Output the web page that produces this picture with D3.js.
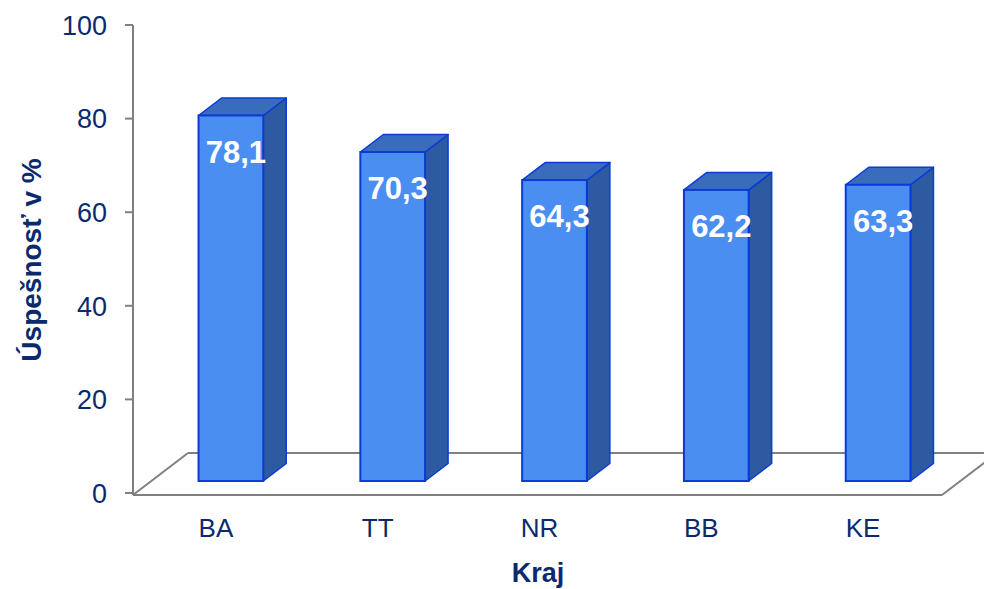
<!DOCTYPE html>
<html>
<head>
<meta charset="utf-8">
<script src="https://cdn.jsdelivr.net/npm/d3@7"></script>
<style>
  html, body { margin: 0; padding: 0; background: #fff; }
  svg { display: block; font-family: "Liberation Sans", Arial, sans-serif; }
</style>
</head>
<body>
<svg id="chart" width="984" height="589"></svg>
<script>
const categories = ["BA", "TT", "NR", "BB", "KE"];
const values = [78.1, 70.3, 64.3, 62.2, 63.3];
const yTicks = [0, 20, 40, 60, 80, 100];
const xTitle = "Kraj";
const yTitle = "Úspešnosť v %";

const svg = d3.select("#chart");
const navy = "#0b2a6e";
const grey = "#808080";

const y = d3.scaleLinear().domain([0, 100]).range([493, 25]);
const x = d3.scaleBand().domain(categories).range([133, 942]).padding(0);

// floor depth
const fdx = 55, fdy = -42;
const floorY = 495;
// bar geometry relative to floor
const barShiftX = 17, barShiftY = -12;
const bdx = 23, bdy = -17.5;
const barW = x.bandwidth() * 0.4;

// floor
const floor = svg.append("g").attr("stroke", grey).attr("stroke-width", 2).attr("fill", "none");
floor.append("line").attr("x1", 133 + fdx).attr("y1", floorY + fdy).attr("x2", 984).attr("y2", floorY + fdy);
floor.append("line").attr("x1", 133).attr("y1", floorY).attr("x2", 133 + fdx).attr("y2", floorY + fdy);
floor.append("line").attr("x1", 133).attr("y1", floorY).attr("x2", 942).attr("y2", floorY);
floor.append("line").attr("x1", 942).attr("y1", floorY).attr("x2", 942 + fdx).attr("y2", floorY + fdy);

// y axis
const axis = svg.append("g");
axis.append("line").attr("x1", 133).attr("x2", 133).attr("y1", y(100)).attr("y2", floorY)
  .attr("stroke", grey).attr("stroke-width", 2);
axis.selectAll("line.tick").data(yTicks).enter().append("line")
  .attr("class", "tick")
  .attr("x1", 125).attr("x2", 133)
  .attr("y1", d => y(d)).attr("y2", d => y(d))
  .attr("stroke", grey).attr("stroke-width", 2);
axis.selectAll("text").data(yTicks).enter().append("text")
  .attr("x", 107).attr("y", d => y(d))
  .attr("dy", "0.36em")
  .attr("text-anchor", "end")
  .attr("font-size", 27)
  .attr("fill", navy)
  .text(d => d);

// bars
const bars = svg.append("g").selectAll("g").data(categories.map((c, i) => ({c, v: values[i]}))).enter().append("g");
const stroke = "#0a3bd6";
bars.each(function(d) {
  const g = d3.select(this);
  const x0 = x(d.c) + x.bandwidth() / 2 - barW / 2 + barShiftX;
  const x1 = x0 + barW;
  const yb = y(0) + barShiftY;
  const yt = y(d.v) + barShiftY;
  // side
  g.append("path")
    .attr("d", `M${x1},${yt} L${x1 + bdx},${yt + bdy} L${x1 + bdx},${yb + bdy} L${x1},${yb} Z`)
    .attr("fill", "#2d5aa0").attr("stroke", stroke).attr("stroke-width", 1.5).attr("stroke-linejoin", "round");
  // top
  g.append("path")
    .attr("d", `M${x0},${yt} L${x0 + bdx},${yt + bdy} L${x1 + bdx},${yt + bdy} L${x1},${yt} Z`)
    .attr("fill", "#3a6cbd").attr("stroke", stroke).attr("stroke-width", 1.5).attr("stroke-linejoin", "round");
  // front
  g.append("rect")
    .attr("x", x0).attr("y", yt).attr("width", barW).attr("height", yb - yt)
    .attr("fill", "#4b8ef2").attr("stroke", stroke).attr("stroke-width", 2);
  g.append("text")
    .attr("x", (x0 + x1) / 2 + 5)
    .attr("y", yt + 36)
    .attr("dy", "0.36em")
    .attr("text-anchor", "middle")
    .attr("font-size", 31)
    .attr("font-weight", "bold")
    .attr("fill", "#ffffff")
    .text(d3.format(".1f")(d.v).replace(".", ","));
});

// category labels
svg.append("g").selectAll("text").data(categories).enter().append("text")
  .attr("x", d => x(d) + x.bandwidth() / 2 + 2)
  .attr("y", 528)
  .attr("dy", "0.36em")
  .attr("text-anchor", "middle")
  .attr("font-size", 26)
  .attr("fill", navy)
  .text(d => d);

// titles
svg.append("text")
  .attr("x", 538).attr("y", 572).attr("dy", "0.36em")
  .attr("text-anchor", "middle").attr("font-size", 27).attr("font-weight", "bold")
  .attr("fill", navy).text(xTitle);
svg.append("text")
  .attr("transform", "translate(31,260) rotate(-90)")
  .attr("dy", "0.36em")
  .attr("text-anchor", "middle").attr("font-size", 28).attr("font-weight", "bold")
  .attr("fill", navy).text(yTitle);
</script>
</body>
</html>
